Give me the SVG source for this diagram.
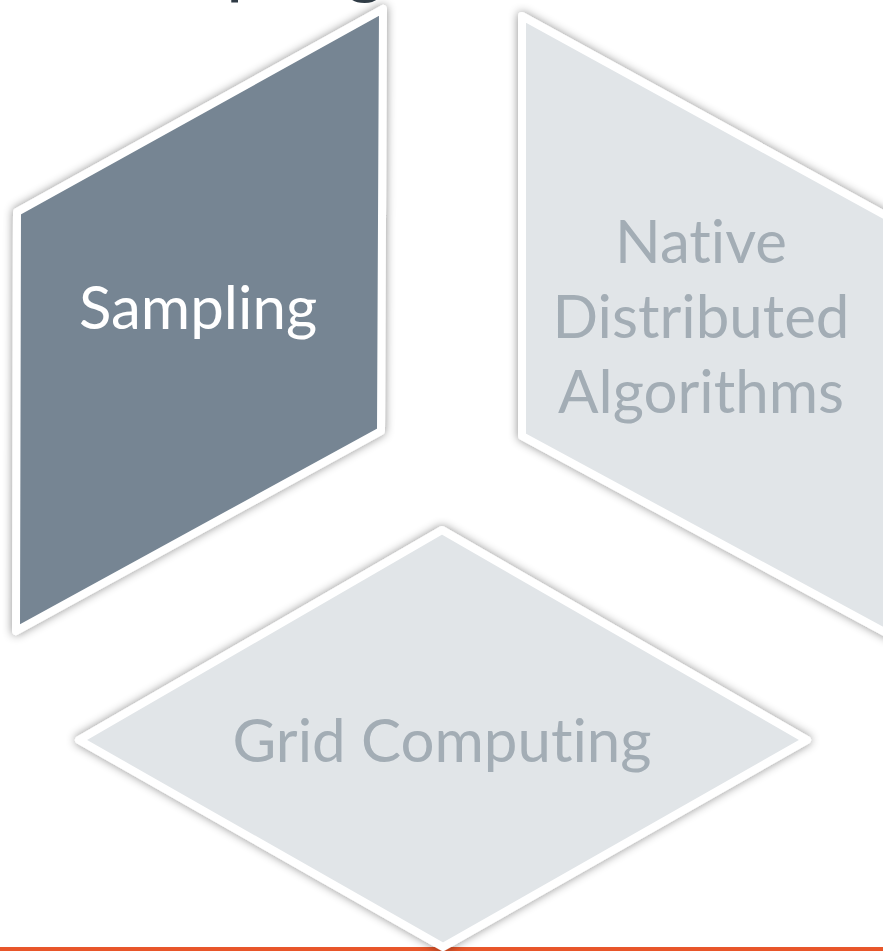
<svg xmlns="http://www.w3.org/2000/svg" width="883" height="951" viewBox="0 0 883 951">
<style>
.shape{stroke:#FFFFFF;stroke-width:8;stroke-linejoin:round;filter:url(#sh)}
.dark{fill:#768593}
.light{fill:#E1E5E8}
text{font-variant-ligatures:none;font-feature-settings:"liga" 0}
.lbl{font-family:Lato,"Open Sans",sans-serif;font-size:60px;text-anchor:middle}
.lw{fill:#FFFFFF}
.lg{fill:#A3ADB5}
</style>
<defs>
<filter id="sh" x="-10%" y="-10%" width="120%" height="120%">
<feDropShadow dx="0" dy="0" stdDeviation="5" flood-color="#000000" flood-opacity="0.45"/>
</filter>
</defs>
<rect x="0" y="0" width="883" height="951" fill="#FFFFFF"/>
<text x="87" y="-11" font-family="Lato,'Open Sans',sans-serif" font-size="75" fill="#2F3B45">Sampling</text>
<rect x="0" y="947" width="883" height="4" fill="#E8562A"/>
<g id="sampling">
<polygon class="shape dark" points="17,212 383,9 381,431 16,631"/>
<text class="lbl lw" x="198" y="329">Sampling</text>
</g>
<g id="native">
<polygon class="shape light" points="522,16 890,218 890,635 522,436"/>
<text class="lbl lg" x="701" y="263">Native</text>
<text class="lbl lg" x="701" y="338">Distributed</text>
<text class="lbl lg" x="701" y="413">Algorithms</text>
</g>
<g id="grid">
<polygon class="shape light" points="442,530 807,740 443,947 79,740"/>
<text class="lbl lg" x="442" y="762">Grid Computing</text>
</g>
<g id="connectors"/>
</svg>
